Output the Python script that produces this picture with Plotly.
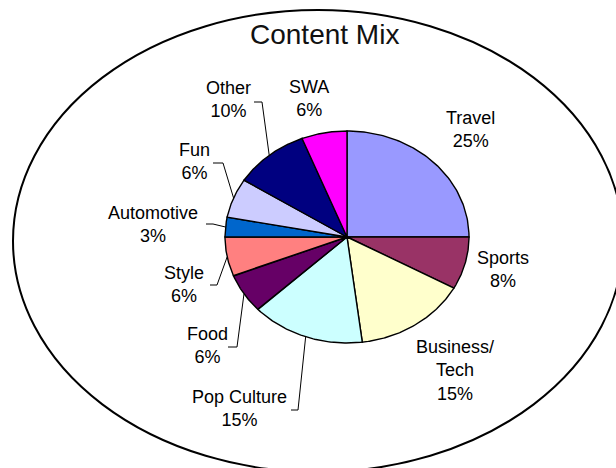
import numpy as np
import plotly.graph_objects as go

# ---- data ----
categories = ["Travel", "Sports", "Business/<br>Tech", "Pop Culture", "Food",
              "Style", "Automotive", "Fun", "Other", "SWA"]
values = [25, 8, 15, 15, 6, 6, 3, 6, 10, 6]
colors = ["#9999FF", "#993366", "#FFFFCC", "#CCFFFF", "#660066",
          "#FF8080", "#0066CC", "#CCCCFF", "#000080", "#FF00FF"]
title_text = "Content Mix"

# ---- layout constants (pixel space of the axes) ----
W, H = 616, 468
CX, CY, RX, RY = 347, 237, 122, 106
label_pos = {
    "Travel": (470, 129), "Sports": (503, 269), "Business/<br>Tech": (455, 370),
    "Pop Culture": (239, 408), "Food": (207, 345), "Style": (184, 284),
    "Automotive": (153, 224), "Fun": (194, 161), "Other": (228, 99),
    "SWA": (309, 98),
}
leader_elbow = {
    "Pop Culture": [(298, 410), (291, 410)],
    "Food": [(237, 347), (228, 347)],
    "Style": [(217, 285), (210, 285)],
    "Automotive": [(213, 224), (206, 224)],
    "Fun": [(223, 163), (213, 163)],
    "Other": [(262, 102), (254, 102)],
}

fig = go.Figure()

total = float(sum(values))
cum = 0.0
mids = []
for cat, v, c in zip(categories, values, colors):
    a0 = cum / total * 2 * np.pi
    a1 = (cum + v) / total * 2 * np.pi
    cum += v
    th = np.linspace(a0, a1, 80)
    xs = np.concatenate([[CX], CX + RX * np.sin(th), [CX]])
    ys = np.concatenate([[CY], CY - RY * np.cos(th), [CY]])
    fig.add_trace(go.Scatter(x=xs, y=ys, mode="lines", fill="toself",
                             fillcolor=c, line=dict(color="black", width=1.4),
                             hoverinfo="skip", showlegend=False))
    mids.append((a0 + a1) / 2)

# leader lines
for cat, am in zip(categories, mids):
    if cat in leader_elbow:
        sx = CX + RX * np.sin(am)
        sy = CY - RY * np.cos(am)
        pts = [(sx, sy)] + leader_elbow[cat]
        fig.add_trace(go.Scatter(x=[p[0] for p in pts], y=[p[1] for p in pts],
                                 mode="lines", line=dict(color="black", width=1),
                                 hoverinfo="skip", showlegend=False))

# labels
for cat, v in zip(categories, values):
    lx, ly = label_pos[cat]
    fig.add_annotation(x=lx, y=ly, xref="x", yref="y", text=f"{cat}<br>{v}%",
                       showarrow=False, xanchor="center", yanchor="middle",
                       font=dict(family="Liberation Sans, Arial", size=18, color="black"))

# title
fig.add_annotation(x=324, y=34, xref="x", yref="y", text=title_text, showarrow=False,
                   xanchor="center", yanchor="middle",
                   font=dict(family="Liberation Sans, Arial", size=28, color="#111111"))

# surrounding ellipse
fig.add_shape(type="circle", xref="x", yref="y", x0=13, x1=623, y0=10, y1=472,
              line=dict(color="black", width=2), layer="below")

fig.update_xaxes(range=[0, W], visible=False, fixedrange=True)
fig.update_yaxes(range=[H, 0], visible=False, fixedrange=True)
fig.update_layout(width=W, height=H, margin=dict(l=0, r=0, t=0, b=0),
                  paper_bgcolor="white", plot_bgcolor="white", showlegend=False)

fig.write_html("out.html", config={"displayModeBar": False})
